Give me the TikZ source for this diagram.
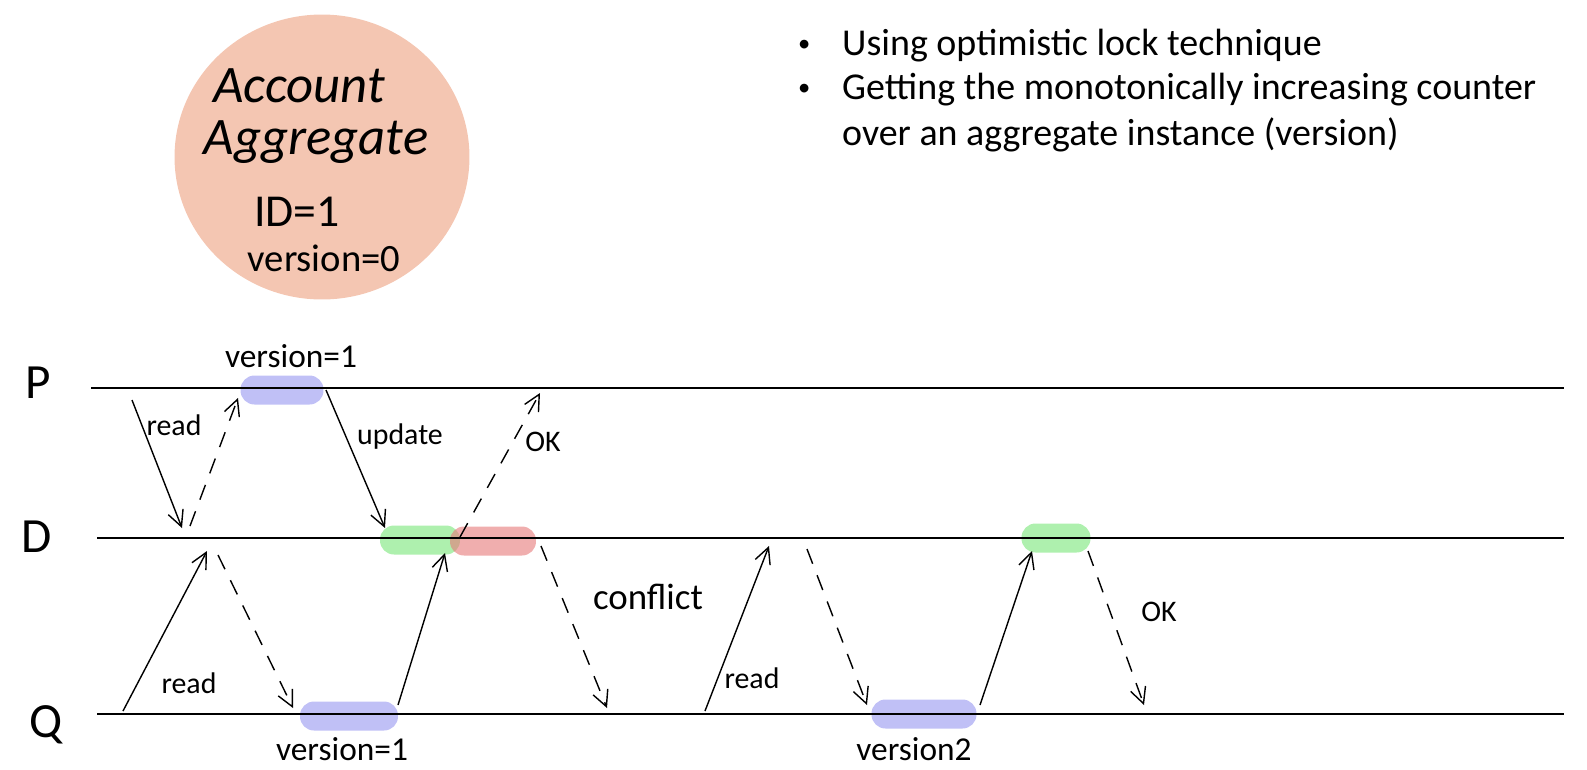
\documentclass[tikz,border=0pt]{standalone}
\usepackage{fontspec}
\setmainfont{Carlito}
\usetikzlibrary{arrows.meta,shapes.geometric}

\definecolor{peach}{RGB}{244,198,178}
\definecolor{vblue}{RGB}{150,150,240}
\definecolor{okgreen}{RGB}{120,230,120}
\definecolor{badred}{RGB}{230,120,120}

\begin{document}
\begin{tikzpicture}[x=0.02cm,y=-0.02cm,
  tl/.style={line width=1.1pt},
  msg/.style={line width=0.8pt,-{Straight Barb[length=9pt,width=9pt]}},
  reply/.style={msg,dash pattern=on 9pt off 7pt},
  hand/.style={font=\fontsize{17}{17}\selectfont},
  bigtxt/.style={anchor=west,font=\fontsize{21.6}{25}\selectfont},
  blob/.style={rounded corners=0.28cm,minimum height=0.58cm,inner sep=0pt,draw=none,fill opacity=0.6}]
\useasboundingbox (0,0) rectangle (1587,769);

% aggregate
\node[ellipse,fill=peach,minimum width=5.9cm,minimum height=5.7cm] (acc) at (322,157) {};
\node[font=\itshape\fontsize{30}{30}\selectfont] (accA) at (299,86) {Account};
\node[font=\itshape\fontsize{30}{30}\selectfont] (accB) at (316,142) {Aggregate};
\node[font=\fontsize{26}{26}\selectfont,inner sep=1pt] (accId) at (297,212) {ID=1};
\node[font=\fontsize{22}{22}\selectfont,inner sep=1pt] (accVer) at (324,258) {version=0};

% bullets
\node[bigtxt,font=\fontsize{14}{14}\selectfont] (b1) at (792,46) {•};
\node[bigtxt] (t1) at (836,46) {Using optimistic lock technique};
\node[bigtxt,font=\fontsize{14}{14}\selectfont] (b2) at (792,90) {•};
\node[bigtxt] (t2) at (836,90) {Getting the monotonically increasing counter};
\node[bigtxt] (t3) at (836,135) {over an aggregate instance (version)};

% highlights
\node[blob,fill=vblue,minimum width=1.66cm] (vP) at (282,390) {};
\node[blob,fill=okgreen,minimum width=1.6cm] (gD) at (420,540) {};
\node[blob,fill=badred,minimum width=1.72cm] (rD) at (493,541) {};
\node[blob,fill=okgreen,minimum width=1.38cm] (gDb) at (1056,538) {};
\node[blob,fill=vblue,minimum width=1.96cm] (vQ) at (349,716) {};
\node[blob,fill=vblue,minimum width=2.1cm] (vQb) at (924,714) {};

% timelines
\node[font=\fontsize{28}{28}\selectfont] (P) at (38,383) {P};
\node[font=\fontsize{28}{28}\selectfont] (D) at (37,537) {D};
\node[font=\fontsize{28}{28}\selectfont] (Q) at (46,725) {Q};
\coordinate (Ps) at (91,388);
\coordinate (Pe) at (1564,388);
\coordinate (Ds) at (97,538);
\coordinate (De) at (1564,538);
\coordinate (Qs) at (97,714);
\coordinate (Qe) at (1564,714);
\draw[tl] (Ps) -- (Pe);
\draw[tl] (Ds) -- (De);
\draw[tl] (Qs) -- (Qe);

% message ends
\coordinate (m1a) at (132,400);
\coordinate (m1b) at (182,528);
\coordinate (m2a) at (190,526);
\coordinate (m2b) at (238,398);
\coordinate (m3a) at (326,390);
\coordinate (m3b) at (385,528);
\coordinate (m4a) at (460,537);
\coordinate (m4b) at (540,393);
\coordinate (m5a) at (123,711);
\coordinate (m5b) at (207,551);
\coordinate (m6a) at (218,555);
\coordinate (m6b) at (293,708);
\coordinate (m7a) at (398,705);
\coordinate (m7b) at (445,553);
\coordinate (m8a) at (541,546);
\coordinate (m8b) at (607,708);
\coordinate (m9a) at (705,711);
\coordinate (m9b) at (769,546);
\coordinate (m10a) at (807,549);
\coordinate (m10b) at (867,705);
\coordinate (m11a) at (980,705);
\coordinate (m11b) at (1032,551);
\coordinate (m12a) at (1088,551);
\coordinate (m12b) at (1144,705);

\draw[msg] (m1a) -- (m1b);
\draw[reply] (m2a) -- (m2b);
\draw[msg] (m3a) -- (m3b);
\draw[reply] (m4a) -- (m4b);
\draw[msg] (m5a) -- (m5b);
\draw[reply] (m6a) -- (m6b);
\draw[msg] (m7a) -- (m7b);
\draw[reply] (m8a) -- (m8b);
\draw[msg] (m9a) -- (m9b);
\draw[reply] (m10a) -- (m10b);
\draw[msg] (m11a) -- (m11b);
\draw[reply] (m12a) -- (m12b);

% labels
\node[hand] (lRead) at (174,425) {read};
\node[hand] (lUpd) at (400,437) {update};
\node[hand] (lOk) at (543,442) {OK};
\node[hand] (lReadQ) at (189,683) {read};
\node[hand,font=\fontsize{21}{21}\selectfont] (lConf) at (648,597) {conflict};
\node[hand] (lReadQb) at (752,678) {read};
\node[hand] (lOkb) at (1159,612) {OK};
\node[hand,font=\fontsize{19}{19}\selectfont] (lVerP) at (291,356) {version=1};
\node[hand,font=\fontsize{19}{19}\selectfont,inner sep=0pt] (lVerQ) at (342,749) {version=1};
\node[hand,font=\fontsize{19}{19}\selectfont,inner sep=0pt] (lVerQb) at (914,749) {version2};
\end{tikzpicture}
\end{document}
